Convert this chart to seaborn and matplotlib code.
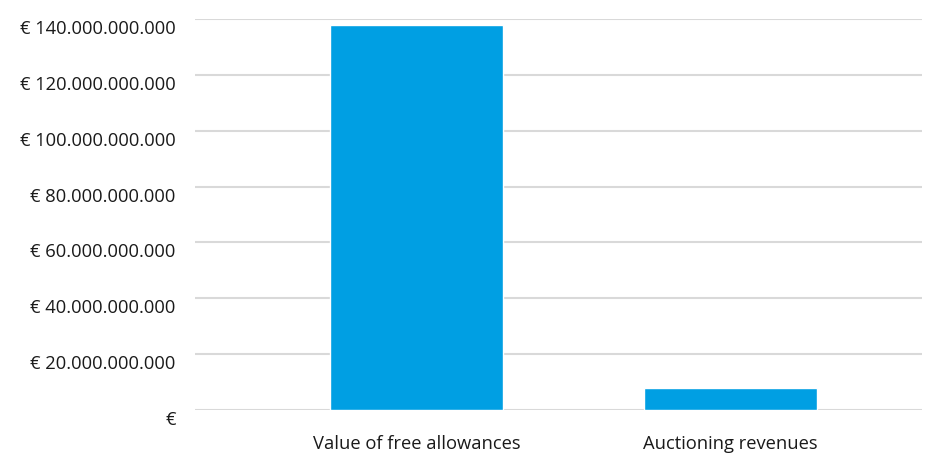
import matplotlib
matplotlib.use("Agg")
import matplotlib.pyplot as plt
import matplotlib.transforms as mtransforms
import seaborn as sns
import pandas as pd

categories = ["Value of free allowances", "Auctioning revenues"]
values = [137.7e9, 7.9e9]
ytick_values = [0, 20e9, 40e9, 60e9, 80e9, 100e9, 120e9, 140e9]
ytick_labels = ["€", "€ 20.000.000.000", "€ 40.000.000.000", "€ 60.000.000.000",
                "€ 80.000.000.000", "€ 100.000.000.000", "€ 120.000.000.000",
                "€ 140.000.000.000"]

sns.set_theme(style="white")
plt.rcParams['font.family'] = ['Open Sans', 'DejaVu Sans']

df = pd.DataFrame({"category": categories, "value": values})

fig = plt.figure(figsize=(9.35, 4.54), dpi=100)
ax = fig.add_axes([195/935, 1 - 410/454, (922-195)/935, (410-19)/454])

sns.barplot(data=df, x="category", y="value", color="#009FE3", saturation=1,
            width=0.55, ax=ax, zorder=3)

ax.set_ylim(0, 140e9)
ax.set_xlim(-0.705, 1.61)
ax.set_yticks(ytick_values)
ax.set_yticklabels(ytick_labels)
ax.grid(axis="y", color="#d9d9d9", linewidth=1.5, zorder=0)
ax.set_axisbelow(True)
for s in ax.spines.values():
    s.set_visible(False)
ax.tick_params(axis="y", length=0, pad=14, labelsize=13.2, labelcolor="#1a1a1a")
ax.tick_params(axis="x", length=0, pad=18, labelsize=13.2, labelcolor="#1a1a1a")
ax.set_xlabel("")
ax.set_ylabel("")

shift = mtransforms.ScaledTranslation(0, -0.08, fig.dpi_scale_trans)
for lab in ax.get_yticklabels():
    lab.set_transform(lab.get_transform() + shift)

fig.savefig("out.png", dpi=100)
